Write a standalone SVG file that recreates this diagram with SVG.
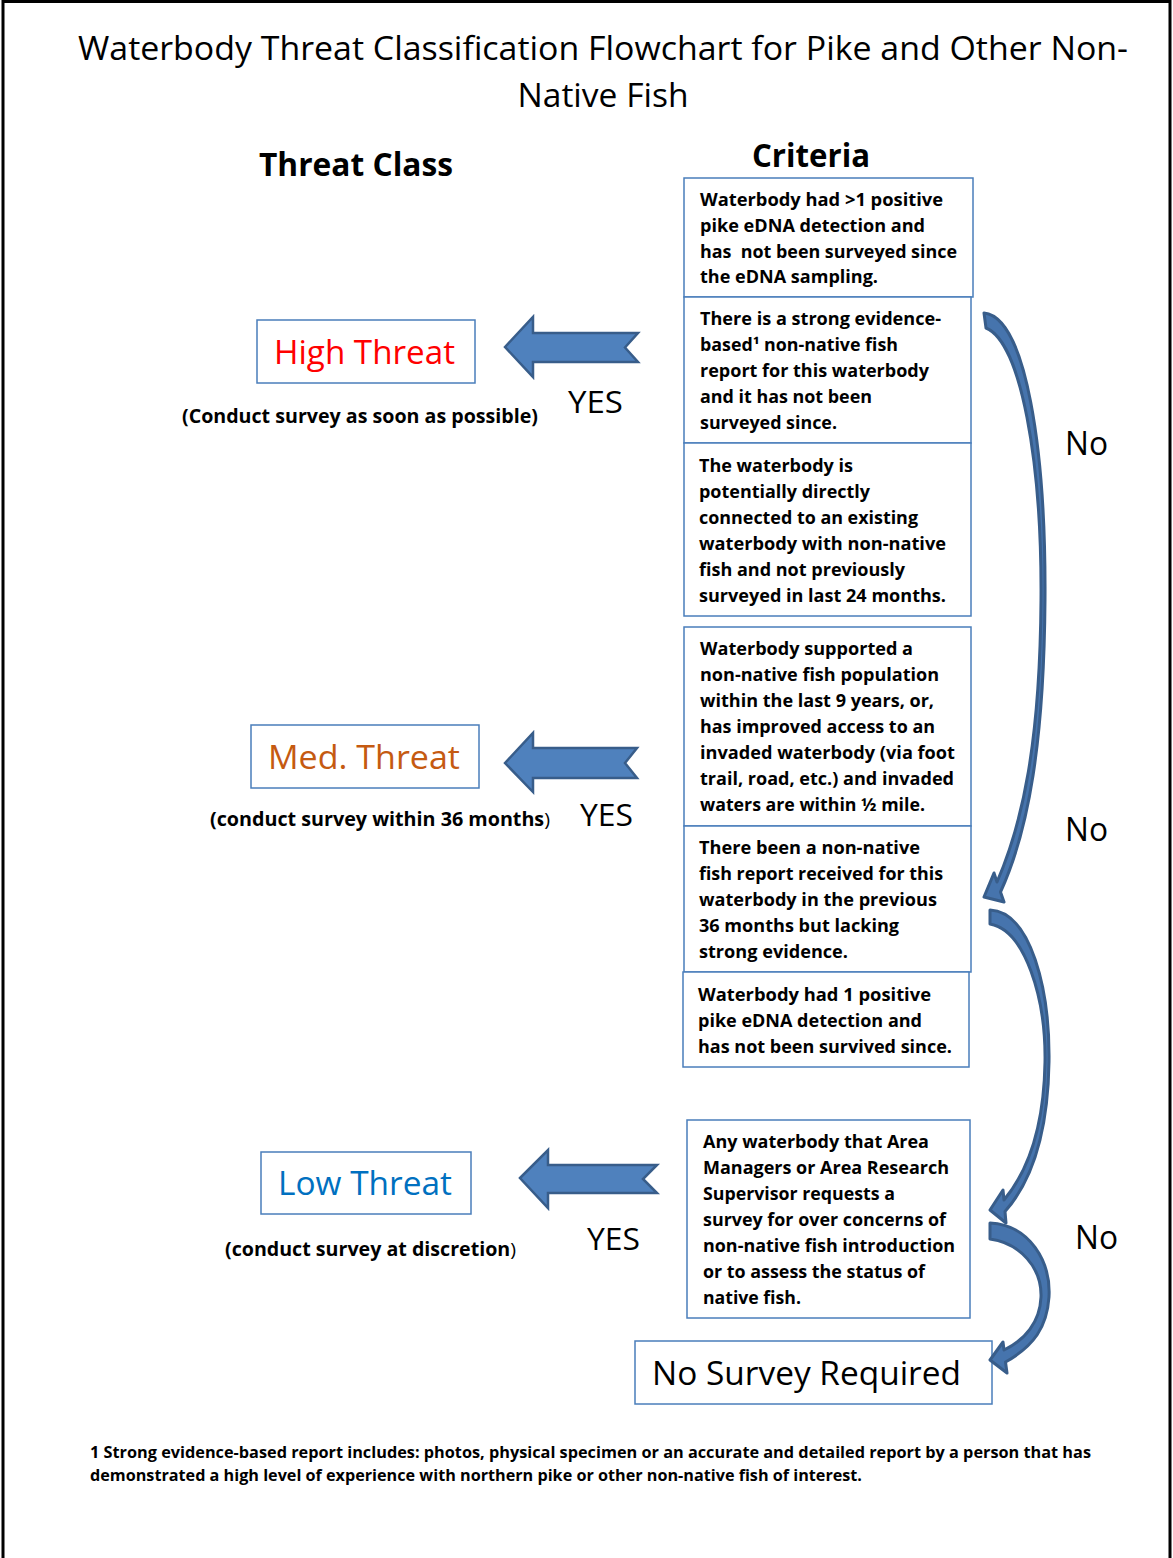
<svg xmlns="http://www.w3.org/2000/svg" width="1173" height="1558" viewBox="0 0 1173 1558">
<defs>
<style>
.t{font-family:"Open Sans","Liberation Sans",sans-serif;fill:#000}
.b{font-weight:bold}
.box{fill:#fff;stroke:#4a7ebb;stroke-width:1.5}
.crit{font-family:"Open Sans","Liberation Sans",sans-serif;font-weight:bold;font-size:17px;fill:#000}
.arr{fill:#4f81bd;stroke:#385d8a;stroke-width:2.5;stroke-linejoin:miter}
.carr{fill:#4674ad;stroke:#385d8a;stroke-width:3;stroke-linejoin:round}
.big{font-size:33px}
.note{font-size:19px;font-weight:bold}
</style>
</defs>
<rect x="0" y="0" width="1173" height="1558" fill="#fff"/>
<path d="M3 1558 V1.5 H1170 V1558" fill="none" stroke="#000" stroke-width="3"/>

<g id="title">
<text class="t big" x="603" y="60" text-anchor="middle" textLength="1050" lengthAdjust="spacingAndGlyphs">Waterbody Threat Classification Flowchart for Pike and Other Non-</text>
<text class="t big" x="603" y="107" text-anchor="middle" textLength="171" lengthAdjust="spacingAndGlyphs">Native Fish</text>
</g>
<g id="headers">
<text class="t b" x="259" y="176" font-size="32" textLength="194" lengthAdjust="spacingAndGlyphs">Threat Class</text>
<text class="t b" x="752" y="167" font-size="32" textLength="118" lengthAdjust="spacingAndGlyphs">Criteria</text>
</g>

<g id="crit1">
<rect class="box" x="684" y="178" width="289" height="119"/>
<text class="crit" x="700" y="206" textLength="243" lengthAdjust="spacingAndGlyphs">Waterbody had &gt;1 positive</text>
<text class="crit" x="700" y="232" textLength="225" lengthAdjust="spacingAndGlyphs">pike eDNA detection and</text>
<text class="crit" x="700" y="258" textLength="257" lengthAdjust="spacingAndGlyphs" xml:space="preserve">has  not been surveyed since</text>
<text class="crit" x="700" y="283" textLength="178" lengthAdjust="spacingAndGlyphs">the eDNA sampling.</text>
</g>
<g id="crit2">
<rect class="box" x="684" y="297" width="287" height="146"/>
<text class="crit" x="700" y="325" textLength="241" lengthAdjust="spacingAndGlyphs">There is a strong evidence-</text>
<text class="crit" x="700" y="351" textLength="198" lengthAdjust="spacingAndGlyphs">based¹ non-native fish</text>
<text class="crit" x="700" y="377" textLength="229" lengthAdjust="spacingAndGlyphs">report for this waterbody</text>
<text class="crit" x="700" y="403" textLength="172" lengthAdjust="spacingAndGlyphs">and it has not been</text>
<text class="crit" x="700" y="429" textLength="137" lengthAdjust="spacingAndGlyphs">surveyed since.</text>
</g>
<g id="crit3">
<rect class="box" x="684" y="443" width="287" height="173"/>
<text class="crit" x="699" y="472" textLength="154" lengthAdjust="spacingAndGlyphs">The waterbody is</text>
<text class="crit" x="699" y="498" textLength="171" lengthAdjust="spacingAndGlyphs">potentially directly</text>
<text class="crit" x="699" y="524" textLength="219" lengthAdjust="spacingAndGlyphs">connected to an existing</text>
<text class="crit" x="699" y="550" textLength="247" lengthAdjust="spacingAndGlyphs">waterbody with non-native</text>
<text class="crit" x="699" y="576" textLength="206" lengthAdjust="spacingAndGlyphs">fish and not previously</text>
<text class="crit" x="699" y="602" textLength="247" lengthAdjust="spacingAndGlyphs">surveyed in last 24 months.</text>
</g>
<g id="crit4">
<rect class="box" x="684" y="627" width="287" height="199"/>
<text class="crit" x="700" y="655" textLength="213" lengthAdjust="spacingAndGlyphs">Waterbody supported a</text>
<text class="crit" x="700" y="681" textLength="239" lengthAdjust="spacingAndGlyphs">non-native fish population</text>
<text class="crit" x="700" y="707" textLength="234" lengthAdjust="spacingAndGlyphs">within the last 9 years, or,</text>
<text class="crit" x="700" y="733" textLength="235" lengthAdjust="spacingAndGlyphs">has improved access to an</text>
<text class="crit" x="700" y="759" textLength="255" lengthAdjust="spacingAndGlyphs">invaded waterbody (via foot</text>
<text class="crit" x="700" y="785" textLength="254" lengthAdjust="spacingAndGlyphs">trail, road, etc.) and invaded</text>
<text class="crit" x="700" y="811" textLength="225" lengthAdjust="spacingAndGlyphs">waters are within ½ mile.</text>
</g>
<g id="crit5">
<rect class="box" x="684" y="826" width="287" height="146"/>
<text class="crit" x="699" y="854" textLength="221" lengthAdjust="spacingAndGlyphs">There been a non-native</text>
<text class="crit" x="699" y="880" textLength="244" lengthAdjust="spacingAndGlyphs">fish report received for this</text>
<text class="crit" x="699" y="906" textLength="238" lengthAdjust="spacingAndGlyphs">waterbody in the previous</text>
<text class="crit" x="699" y="932" textLength="200" lengthAdjust="spacingAndGlyphs">36 months but lacking</text>
<text class="crit" x="699" y="958" textLength="149" lengthAdjust="spacingAndGlyphs">strong evidence.</text>
</g>
<g id="crit6">
<rect class="box" x="683" y="972" width="286" height="95"/>
<text class="crit" x="698" y="1001" textLength="233" lengthAdjust="spacingAndGlyphs">Waterbody had 1 positive</text>
<text class="crit" x="698" y="1027" textLength="224" lengthAdjust="spacingAndGlyphs">pike eDNA detection and</text>
<text class="crit" x="698" y="1053" textLength="254" lengthAdjust="spacingAndGlyphs">has not been survived since.</text>
</g>
<g id="crit7">
<rect class="box" x="687" y="1120" width="283" height="198"/>
<text class="crit" x="703" y="1148" textLength="226" lengthAdjust="spacingAndGlyphs">Any waterbody that Area</text>
<text class="crit" x="703" y="1174" textLength="246" lengthAdjust="spacingAndGlyphs">Managers or Area Research</text>
<text class="crit" x="703" y="1200" textLength="192" lengthAdjust="spacingAndGlyphs">Supervisor requests a</text>
<text class="crit" x="703" y="1226" textLength="243" lengthAdjust="spacingAndGlyphs">survey for over concerns of</text>
<text class="crit" x="703" y="1252" textLength="252" lengthAdjust="spacingAndGlyphs">non-native fish introduction</text>
<text class="crit" x="703" y="1278" textLength="222" lengthAdjust="spacingAndGlyphs">or to assess the status of</text>
<text class="crit" x="703" y="1304" textLength="98" lengthAdjust="spacingAndGlyphs">native fish.</text>
</g>

<g id="high">
<rect class="box" x="257" y="320" width="218" height="63"/>
<text class="t big" x="274" y="364" style="fill:#ff0000" textLength="181" lengthAdjust="spacingAndGlyphs">High Threat</text>
<text class="t note" x="182" y="423" textLength="356" lengthAdjust="spacingAndGlyphs">(Conduct survey as soon as possible)</text>
</g>
<g id="med">
<rect class="box" x="251" y="725" width="228" height="63"/>
<text class="t big" x="268" y="769" style="fill:#c55a11" textLength="192" lengthAdjust="spacingAndGlyphs">Med. Threat</text>
<text class="t note" x="210" y="826" textLength="340" lengthAdjust="spacingAndGlyphs">(conduct survey within 36 months<tspan font-weight="normal">)</tspan></text>
</g>
<g id="low">
<rect class="box" x="261" y="1152" width="210" height="62"/>
<text class="t big" x="278" y="1195" style="fill:#0070c0" textLength="174" lengthAdjust="spacingAndGlyphs">Low Threat</text>
<text class="t note" x="225" y="1256" textLength="291" lengthAdjust="spacingAndGlyphs">(conduct survey at discretion<tspan font-weight="normal">)</tspan></text>
</g>
<g id="nosurvey">
<rect class="box" x="635" y="1341" width="357" height="63"/>
<text class="t big" x="652" y="1385" textLength="309" lengthAdjust="spacingAndGlyphs">No Survey Required</text>
</g>

<g id="connectors">
<polygon class="arr" points="505,347 533,317 533,333 638,333 625,347.5 638,362 533,362 533,377"/>
<polygon class="arr" points="505,763 533,733 533,748 637,748 625,763 637,778 533,778 533,792"/>
<polygon class="arr" points="520,1178 548,1150 548,1165 657,1165 643,1179 657,1193 548,1193 548,1208"/>

<path class="carr" d="M984 313 C1026 317 1046 450 1045 600 C1044 740 1029 830 1000.5 892 L1004 902 L984 897 L994 873 L997 882 C1023 822 1040 742 1041 600 C1042 462 1021 342 986 328 Z"/>
<path class="carr" d="M990 910 C1031 912 1050 990 1049 1062 C1048 1130 1033 1180 1005 1211.5 L1006 1223 L990 1210 L1003 1190 L1004 1200 C1029 1170 1044 1125 1045 1062 C1046 998 1025 930 990 924 Z"/>
<path class="carr" d="M990 1223 C1030 1225 1051 1262 1049 1297 C1047 1327 1034 1346 1005.5 1362 L1007 1373 L990 1360 L1003 1342 L1004 1350 C1025 1340 1040 1322 1041 1297 C1042 1268 1020 1243 990 1239 Z"/>

<text class="t" x="568" y="413" font-size="31" textLength="55" lengthAdjust="spacingAndGlyphs">YES</text>
<text class="t" x="580" y="826" font-size="31" textLength="53" lengthAdjust="spacingAndGlyphs">YES</text>
<text class="t" x="587" y="1250" font-size="31" textLength="53" lengthAdjust="spacingAndGlyphs">YES</text>
<text class="t big" x="1065" y="455" textLength="43" lengthAdjust="spacingAndGlyphs">No</text>
<text class="t big" x="1065" y="841" textLength="43" lengthAdjust="spacingAndGlyphs">No</text>
<text class="t big" x="1075" y="1249" textLength="43" lengthAdjust="spacingAndGlyphs">No</text>
</g>

<g id="footnote">
<text class="t b" x="90" y="1458" font-size="15.5" textLength="1001" lengthAdjust="spacingAndGlyphs">1 Strong evidence-based report includes: photos, physical specimen or an accurate and detailed report by a person that has</text>
<text class="t b" x="90" y="1481" font-size="15.5" textLength="772" lengthAdjust="spacingAndGlyphs">demonstrated a high level of experience with northern pike or other non-native fish of interest.</text>
</g>
</svg>
